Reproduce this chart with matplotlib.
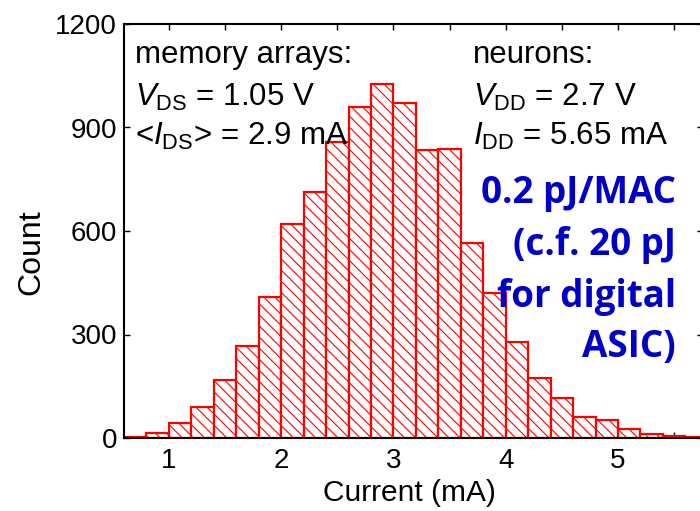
import numpy as np
import matplotlib
matplotlib.use('Agg')
import matplotlib.pyplot as plt
from matplotlib.ticker import MultipleLocator

# histogram of measured currents, bins of 0.2 mA starting at 0.6 mA
binStart = 0.6
binWidth = 0.2
counts = [4, 14, 44, 91, 168, 268, 408, 620, 712, 859, 960, 1026, 972,
          835, 838, 564, 419, 279, 175, 115, 60, 52, 25, 11, 6, 3]
xTicks = [1, 2, 3, 4, 5]
yTicks = [0, 300, 600, 900, 1200]

memoryLines = ['memory arrays:',
               r'$V_{\mathrm{DS}}$ = 1.05 V',
               r'<$I_{\mathrm{DS}}$> = 2.9 mA']
neuronLines = ['neurons:',
               r'$V_{\mathrm{DD}}$ = 2.7 V',
               r'$I_{\mathrm{DD}}$ = 5.65 mA']
energyLines = ['0.2 pJ/MAC', '(c.f. 20 pJ', 'for digital', 'ASIC)']

plt.rcParams['font.family'] = ['Liberation Sans', 'DejaVu Sans']
plt.rcParams['mathtext.fontset'] = 'custom'
plt.rcParams['mathtext.rm'] = 'Liberation Sans'
plt.rcParams['mathtext.it'] = 'Liberation Sans:italic'
plt.rcParams['hatch.linewidth'] = 0.8

fig = plt.figure(figsize=(7.0, 5.11), dpi=100)
ax = fig.add_axes([124 / 700, 73 / 511, 579 / 700, 414 / 511])

edges = binStart + binWidth * np.arange(len(counts))
ax.bar(edges, counts, width=binWidth, align='edge', facecolor='white',
       edgecolor='red', linewidth=1.6, hatch='\\\\\\', zorder=2)

ax.set_xlim(0.6, 5.757)
ax.set_ylim(0, 1200)
ax.set_xticks(xTicks)
ax.set_yticks(yTicks)
ax.xaxis.set_minor_locator(MultipleLocator(0.5))
ax.tick_params(which='both', direction='in', top=True, right=True,
               length=4, width=1, labelsize=20)
ax.tick_params(axis='x', pad=7)
ax.tick_params(axis='y', pad=5)
for s in ax.spines.values():
    s.set_linewidth(1.5)
    s.set_zorder(3)

fig.text(409 / 700, 18 / 511, 'Current (mA)', fontsize=21.5, ha='center', va='center')
fig.text(31 / 700, 259 / 511, 'Count', fontsize=23, ha='center', va='center',
         rotation=90)

# annotation blocks (baselines in axes fraction)
baselines = [0.906, 0.802, 0.708]
for txt, yb in zip(memoryLines, baselines):
    ax.text(0.019, yb, txt, transform=ax.transAxes, fontsize=22.5,
            ha='left', va='baseline', zorder=4)
for txt, yb in zip(neuronLines, baselines):
    ax.text(0.603, yb, txt, transform=ax.transAxes, fontsize=22.5,
            ha='left', va='baseline', zorder=4)

blueBase = [0.568, 0.442, 0.316, 0.196]
for txt, yb in zip(energyLines, blueBase):
    ax.text(0.953, yb, txt, transform=ax.transAxes, fontsize=26.5,
            family=['Open Sans', 'DejaVu Sans'], fontweight='bold', color='#0000C8',
            ha='right', va='baseline', zorder=4)

fig.savefig('out.png', dpi=100)
